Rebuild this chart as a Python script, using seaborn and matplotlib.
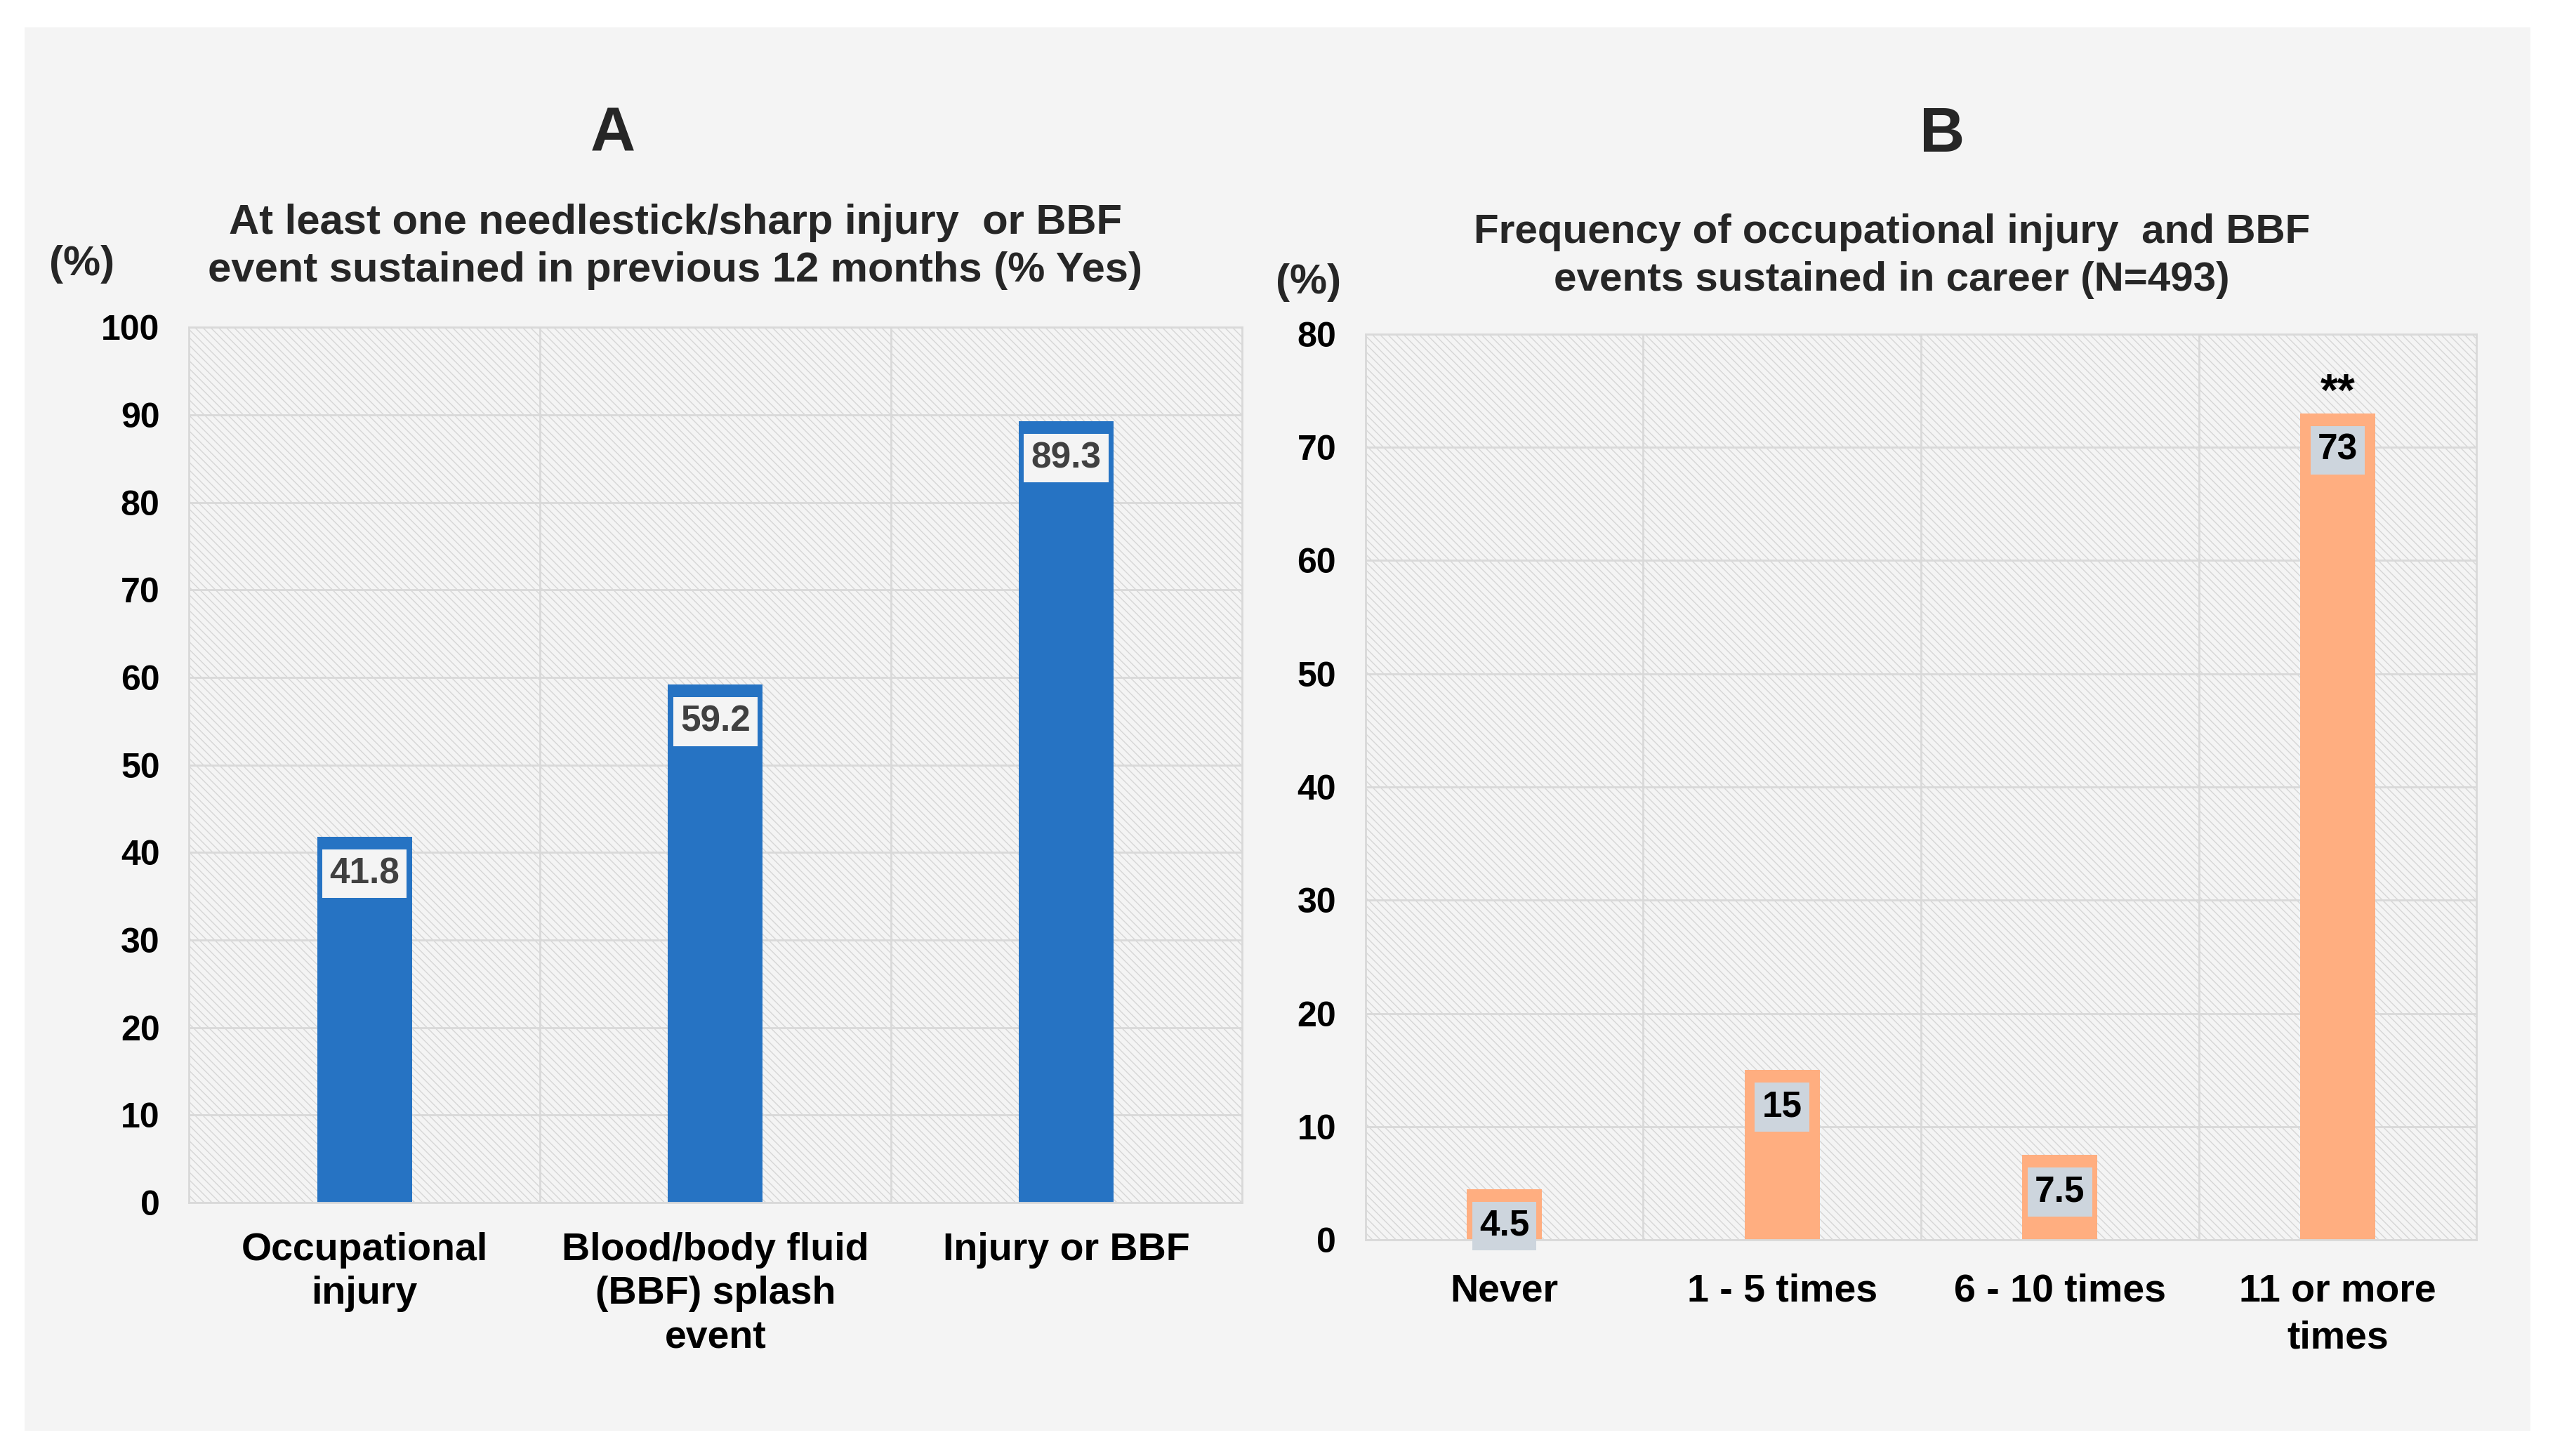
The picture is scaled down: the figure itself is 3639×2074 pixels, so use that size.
import matplotlib
matplotlib.use("Agg")
import matplotlib.pyplot as plt
import seaborn as sns
from matplotlib.patches import Rectangle
from matplotlib.ticker import FixedLocator

# data
cats_a = ["Occupational\ninjury", "Blood/body fluid\n(BBF) splash\nevent", "Injury or BBF"]
vals_a = [41.8, 59.2, 89.3]
labels_a = ["41.8", "59.2", "89.3"]

cats_b = ["Never", "1 - 5 times", "6 - 10 times", "11 or more\ntimes"]
vals_b = [4.5, 15, 7.5, 73]
labels_b = ["4.5", "15", "7.5", "73"]

yticks_a = list(range(0, 101, 10))
yticks_b = list(range(0, 81, 10))

BG = "#f4f4f4"
GRID = "#d9d9d9"
BLUE = "#2673c3"
ORANGE = "#ffae80"

sns.set_style("white")
plt.rcParams["font.family"] = ["Liberation Sans", "DejaVu Sans"]
plt.rcParams["font.weight"] = "bold"
plt.rcParams["hatch.linewidth"] = 1.0

fig = plt.figure(figsize=(36.39, 20.74), dpi=100, facecolor="white")
fig.patches.append(Rectangle((0.0096, 0.0175), 0.9808, 0.9635, transform=fig.transFigure,
                             facecolor=BG, edgecolor="none", zorder=-10))

axA = fig.add_axes([0.0740, 0.1741, 0.4120, 0.6010])
axB = fig.add_axes([0.5344, 0.1484, 0.4349, 0.6222])


def style_axes(ax, cats, yticks, xpad, lsp):
    ax.set_facecolor(BG)
    ax.patch.set_hatch("\\\\\\")
    ax.patch.set_edgecolor("#d6d6d6")
    ax.patch.set_linewidth(0)
    ax.set_axisbelow(True)
    ax.set_xlim(-0.5, len(cats) - 0.5)
    ax.set_ylim(yticks[0], yticks[-1])
    ax.set_yticks(yticks)
    ax.xaxis.set_minor_locator(FixedLocator([i + 0.5 for i in range(len(cats) - 1)]))
    ax.grid(axis="y", which="major", color=GRID, linewidth=2)
    ax.grid(axis="x", which="minor", color=GRID, linewidth=2)
    ax.grid(axis="x", which="major", visible=False)
    for s in ax.spines.values():
        s.set_visible(True)
        s.set_color(GRID)
        s.set_linewidth(2)
    ax.tick_params(axis="y", length=0, pad=30, labelsize=36, labelcolor="black")
    ax.tick_params(axis="x", which="both", length=0, pad=xpad, labelsize=40, labelcolor="black")
    for t in ax.get_xticklabels():
        t.set_linespacing(lsp)
        t.set_fontweight("bold")
    for t in ax.get_yticklabels():
        t.set_fontweight("bold")
    ax.set_xlabel("")
    ax.set_ylabel("")


def plot_bars(ax, cats, vals, labels, color, box_fc, txt_color):
    sns.barplot(x=cats, y=vals, color=color, width=0.27, saturation=1,
                linewidth=0, ax=ax)
    for i, (v, lab) in enumerate(zip(vals, labels)):
        ax.annotate(lab, xy=(i, v), xytext=(0, -38), textcoords="offset points",
                    ha="center", va="center", fontsize=37, fontweight="bold",
                    color=txt_color, zorder=5,
                    bbox=dict(boxstyle="square,pad=0.2", fc=box_fc, ec="none"))


plot_bars(axA, cats_a, vals_a, labels_a, BLUE, BG, "#404040")
plot_bars(axB, cats_b, vals_b, labels_b, ORANGE, "#cdd5dd", "black")
style_axes(axA, cats_a, yticks_a, 30, 1.27)
style_axes(axB, cats_b, yticks_b, 34, 1.38)

# significance mark
axB.annotate("**", xy=(3, vals_b[3]), xytext=(0, 20), textcoords="offset points",
             ha="center", va="center", fontsize=46, fontweight="bold", color="black")

# titles
fig.text(0.2398, 0.907, "A", ha="center", va="center", fontsize=64, fontweight="bold")
fig.text(0.760, 0.907, "B", ha="center", va="center", fontsize=64, fontweight="bold")
fig.text(0.2643, 0.8305, "At least one needlestick/sharp injury  or BBF\nevent sustained in previous 12 months (% Yes)",
         ha="center", va="center", fontsize=43, fontweight="bold", linespacing=1.29)
fig.text(0.7404, 0.824, "Frequency of occupational injury  and BBF\nevents sustained in career (N=493)",
         ha="center", va="center", fontsize=42, fontweight="bold", linespacing=1.33)
fig.text(0.0319, 0.8187, "(%)", ha="center", va="center", fontsize=43, fontweight="bold")
fig.text(0.5121, 0.806, "(%)", ha="center", va="center", fontsize=43, fontweight="bold")

fig.savefig("out.png", dpi=100, facecolor="white")
